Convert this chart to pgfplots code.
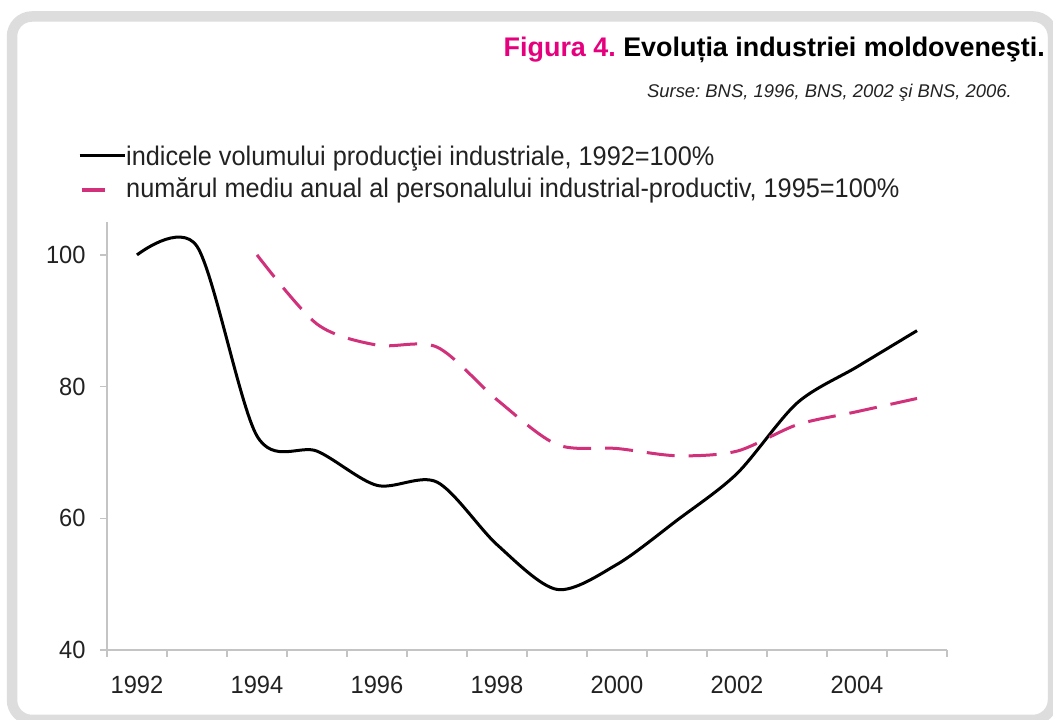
\documentclass[border=0pt]{standalone}
\usepackage{fontspec}
\setmainfont{Liberation Sans}
\newfontfamily\narrowfont[FakeStretch=0.94]{Liberation Sans}
\newfontfamily\tickfont[FakeStretch=0.95]{Liberation Sans}
\usepackage{pgfplots}
\pgfplotsset{compat=1.18}
\definecolor{pinkline}{HTML}{D1317A}
\definecolor{titlepink}{HTML}{E5007E}
\definecolor{framegray}{HTML}{DDDDDD}
\definecolor{axisgray}{HTML}{C4C4C4}
\definecolor{textdark}{HTML}{222222}
\frenchspacing
\begin{document}
\begin{tikzpicture}[x=1bp,y=1bp]
\useasboundingbox (0,0) rectangle (1053,720);
\fill[white] (0,0) rectangle (1053,720);
\draw[framegray, line width=10.5bp, rounded corners=20bp] (12,0) rectangle (1053,703.5);
\node[anchor=base east, inner sep=0pt, font=\fontsize{27}{32}\selectfont\bfseries] at (1045,663) {\textcolor{titlepink}{Figura 4.} Evoluția industriei moldoveneşti.};
\node[anchor=base east, inner sep=0pt, text=textdark, font=\fontsize{18.5}{22}\selectfont\itshape] at (1012,622) {Surse: BNS, 1996, BNS, 2002 şi BNS, 2006.};
\begin{axis}[
  at={(107bp,70bp)}, anchor=south west,
  scale only axis, width=840bp, height=428bp,
  xmin=1991.5, xmax=2005.5, ymin=40, ymax=105,
  axis x line*=bottom, axis y line*=left,
  axis line style={axisgray, line width=2bp},
  tick style={axisgray, line width=1.5bp},
  tick align=outside, major tick length=7bp,
  xtick={1991.5,1992.5,...,2005.5}, xticklabels={},
  extra x ticks={1992,1994,...,2004},
  extra x tick labels={1992,1994,1996,1998,2000,2002,2004},
  extra x tick style={major tick length=0pt, tick style={draw=none}},
  ytick={40,60,80,100},
  /pgf/number format/assume math mode=true,
  ticklabel style={font=\tickfont\fontsize{25}{30}\selectfont, text=textdark},
  xticklabel style={yshift=-23bp},
  yticklabel style={xshift=-11bp},
  legend style={at={(axis description cs:-0.0345,1.18)}, anchor=north west,
    draw=none, fill=none, inner sep=0pt, row sep=6bp,
    font=\narrowfont\fontsize{27}{32}\selectfont, text=textdark,
    nodes={inner sep=0pt, text height=20bp, text depth=6bp},
    /tikz/every even column/.append style={column sep=3bp}},
  legend cell align=left,
]
\addplot[black, line width=3bp, smooth,
  legend image code/.code={\draw[black, solid, line width=3bp] (0bp,3bp) -- (45bp,3bp);}]
coordinates {(1992,100) (1993,101.3) (1994,72.5) (1995,70.2) (1996,65) (1997,65.5) (1998,56) (1999,49.2) (2000,53) (2001,59.7) (2002,66.8) (2003,77.5) (2004,83) (2005,88.5)};
\addlegendentry{indicele volumului producţiei industriale, 1992=100\%}
\addplot[pinkline, line width=3bp, smooth, dash pattern=on 28bp off 14bp,
  legend image code/.code={\draw[pinkline, solid, line width=3.5bp] (2bp,0bp) -- (25bp,0bp); \path[draw=none] (0bp,0bp) -- (45bp,0bp);}]
coordinates {(1994,100) (1995,89.5) (1996,86.3) (1997,86) (1998,78) (1999,71.2) (2000,70.6) (2001,69.5) (2002,70.2) (2003,74.2) (2004,76.2) (2005,78.2)};
\addlegendentry{numărul mediu anual al personalului industrial-productiv, 1995=100\%}
\end{axis}
\end{tikzpicture}
\end{document}
